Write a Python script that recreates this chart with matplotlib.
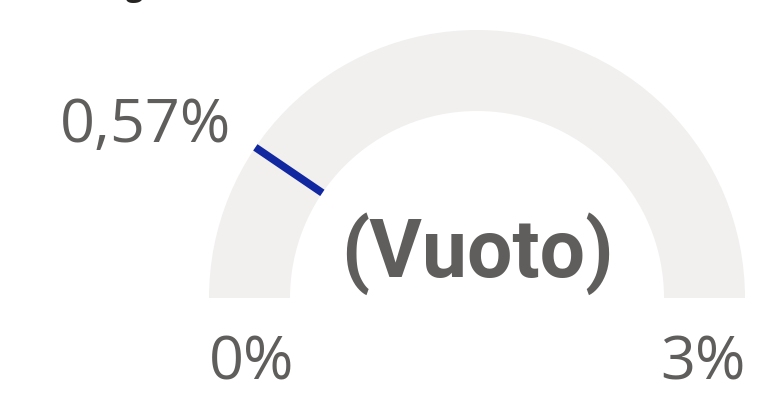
import matplotlib
matplotlib.use("Agg")
import numpy as np
import matplotlib.pyplot as plt
from matplotlib.patches import Wedge
from matplotlib import font_manager

# gauge values (percent)
gauge_min = 0.0
gauge_max = 3.0
target = 0.57
callout = "(Vuoto)"
min_label = "0%"
max_label = "3%"
target_label = "0,57%"

W, H = 779, 393
cx, cy = 477, 95          # ring centre, y measured from the bottom
r_out, r_in = 268, 187
ring_col = "#F1F0EF"
target_col = "#1228A0"
text_col = "#605E5C"

fig = plt.figure(figsize=(W / 100, H / 100), dpi=100)
ax = fig.add_axes([0, 0, 1, 1])
ax.set_xlim(0, W)
ax.set_ylim(0, H)
ax.set_aspect("equal")
ax.axis("off")

ax.add_patch(Wedge((cx, cy), r_out, 0, 180, width=r_out - r_in,
                   facecolor=ring_col, edgecolor="none"))

# target marker across the ring
frac = (target - gauge_min) / (gauge_max - gauge_min)
ang = np.pi * (1 - frac)
ax.plot([cx + r_in * np.cos(ang), cx + r_out * np.cos(ang)],
        [cy + r_in * np.sin(ang), cy + r_out * np.sin(ang)],
        color=target_col, lw=5.5, solid_capstyle="butt")

mid = (r_in + r_out) / 2
ax.text(cx - mid + 2, 30, min_label, ha="center", va="center",
        fontsize=44, family="Open Sans", color=text_col)
ax.text(cx + mid - 2, 30, max_label, ha="center", va="center",
        fontsize=44, family="Open Sans", color=text_col)
ax.text(231, 267, target_label, ha="right", va="center",
        fontsize=44, family="Open Sans", color=text_col)

names = {f.name for f in font_manager.fontManager.ttflist}
if "Liberation Sans Narrow" in names:
    cfam, csize = "Liberation Sans Narrow", 64
else:
    cfam, csize = "Roboto", 58
ax.text(cx, 139, callout, ha="center", va="center", fontsize=csize,
        family=cfam, fontweight="bold", color=text_col)

# bottom of the title line above the visual
fig.text(126 / W, 1 + 4 / H, "g", ha="left", va="baseline",
         fontsize=22, family="Open Sans", fontweight="bold", color="#252423")

fig.savefig("out.png", dpi=100)
